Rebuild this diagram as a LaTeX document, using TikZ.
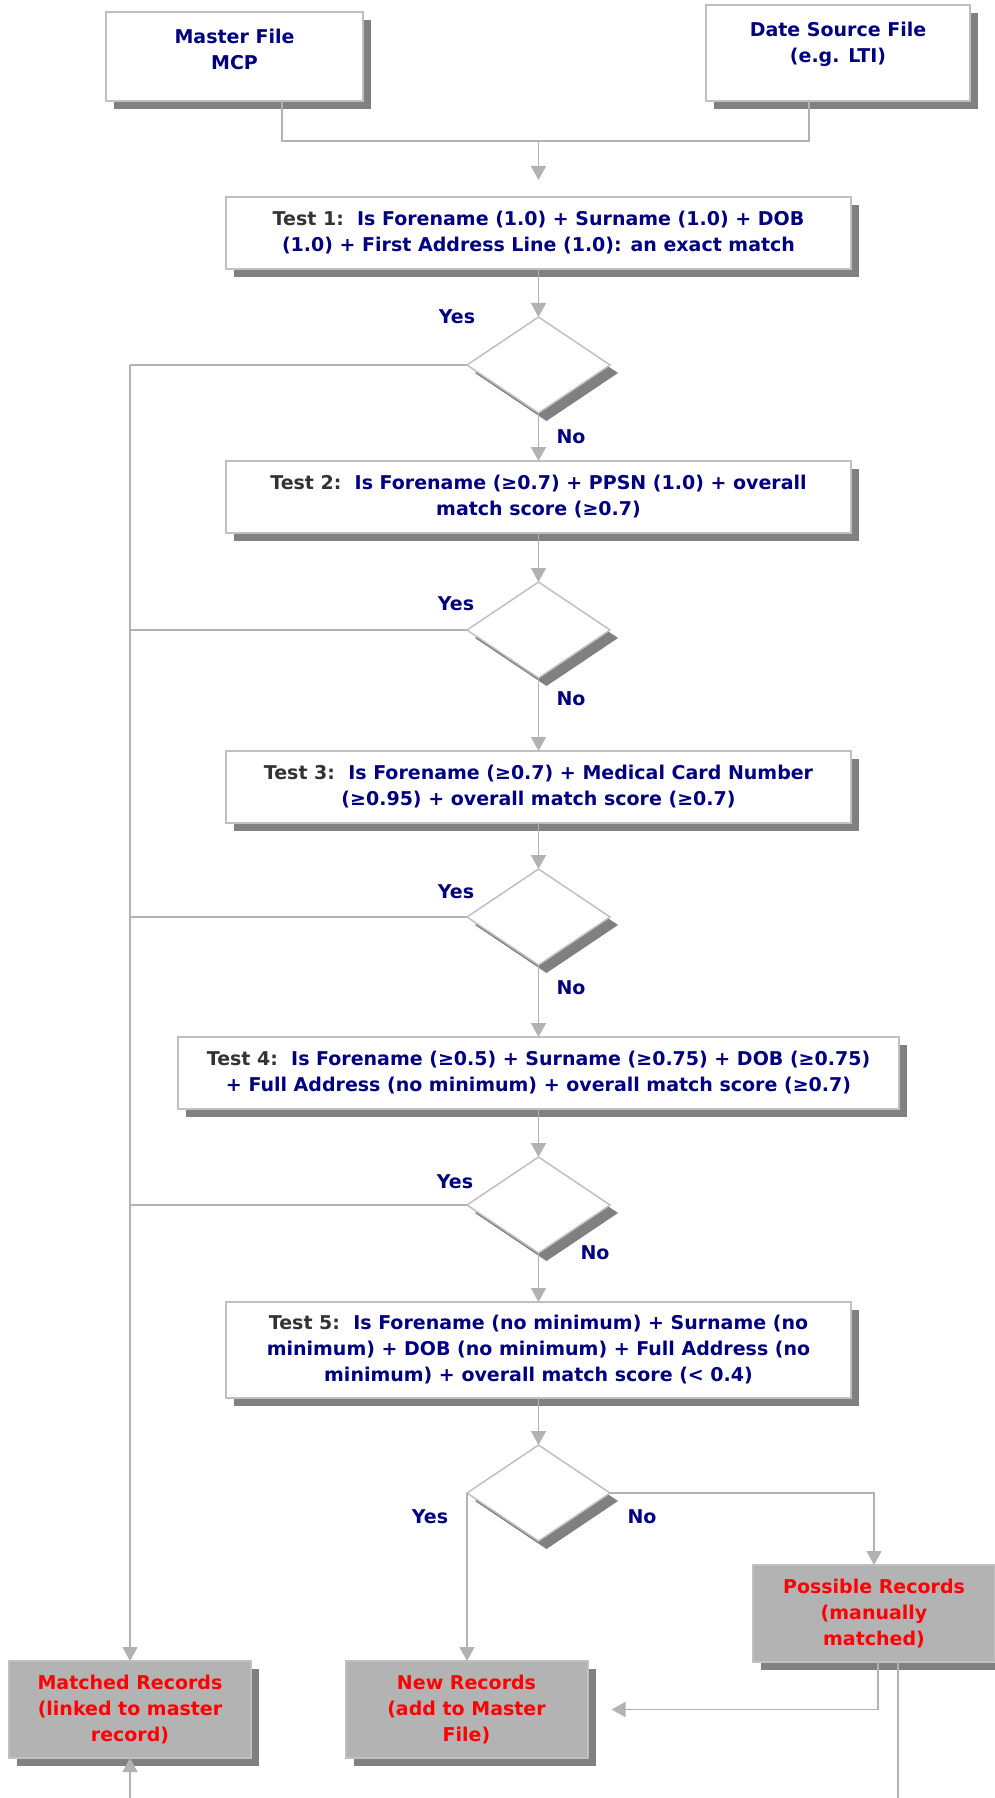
\documentclass[tikz,border=0pt]{standalone}
\usepackage{fontspec}
\setmainfont{DejaVu Sans}
\usetikzlibrary{positioning,arrows.meta,shapes.geometric,shadows}
\definecolor{mcpnavy}{HTML}{000080}
\definecolor{mcpgrey}{HTML}{333333}
\definecolor{mcpline}{HTML}{B2B2B2}
\definecolor{mcpedge}{HTML}{C0C0C0}
\definecolor{mcpshadow}{HTML}{808080}
\definecolor{mcpfill}{HTML}{B3B3B3}
\definecolor{mcpred}{HTML}{FF0000}
\newcommand{\testlbl}[1]{{\color{mcpgrey}Test #1:}\ \ }

\begin{document}
\begin{tikzpicture}[x=1pt, y=-1pt,
        every node/.style={font=\fontsize{19}{26}\selectfont\bfseries},
        sh/.style={drop shadow={shadow xshift=8pt, shadow yshift=-8pt, fill=mcpshadow, opacity=1}},
        b/.style={draw=mcpedge, line width=2pt, fill=white, sh, align=center, text=mcpnavy, inner sep=0pt, outer sep=0pt},
        t/.style={b, minimum width=625pt, minimum height=72pt},
        res/.style={b, fill=mcpfill, text=mcpred, minimum width=242pt, minimum height=97pt},
        q/.style={diamond, draw=mcpedge, line width=1.5pt, fill=white, sh, minimum width=143pt, minimum height=96pt, inner sep=0pt, outer sep=0pt},
        lbl/.style={text=mcpnavy},
        ln/.style={draw=mcpline, line width=1.5pt},
        arr/.style={ln, -{Triangle[length=14pt, width=15pt]}}]
      \useasboundingbox (0,0) rectangle (994,1798);
      % sources
      \node[b, minimum width=257pt, minimum height=89pt] (master) at (234.5,56.5) {Master File\\MCP\\[-12pt]\mbox{}};
      \node[b, minimum width=264pt, minimum height=96pt] (source) at (838,53) {Date Source File\\(e.g. LTI)\\[-4pt]\mbox{}};
      % tests and decisions
      \node[t] (t1) at (538.5,233) {\testlbl{1}Is Forename (1.0) + Surname (1.0) + DOB\\(1.0) + First Address Line (1.0): an exact match};
      \node[q] (d1) at (538.5,365) {};
      \node[t] (t2) at (538.5,497) {\testlbl{2}Is Forename (≥0.7) + PPSN (1.0) + overall\\match score (≥0.7)};
      \node[q] (d2) at (538.5,630) {};
      \node[t] (t3) at (538.5,787) {\testlbl{3}Is Forename (≥0.7) + Medical Card Number\\(≥0.95) + overall match score (≥0.7)};
      \node[q] (d3) at (538.5,917) {};
      \node[t, minimum width=721pt] (t4) at (538.5,1073) {\testlbl{4}Is Forename (≥0.5) + Surname (≥0.75) + DOB (≥0.75)\\+ Full Address (no minimum) + overall match score (≥0.7)};
      \node[q] (d4) at (538.5,1205) {};
      \node[t, minimum height=96pt] (t5) at (538.5,1350) {\testlbl{5}Is Forename (no minimum) + Surname (no\\minimum) + DOB (no minimum) + Full Address (no\\minimum) + overall match score (< 0.4)};
      \node[q] (d5) at (538.5,1493) {};
      % outcomes
      \node[res] (matched) at (130,1709.5) {Matched Records\\(linked to master\\record)};
      \node[res] (newrec) at (466.5,1709.5) {New Records\\(add to Master\\File)};
      \node[res] (possible) at (874,1613.5) {Possible Records\\(manually\\matched)};
      % yes / no labels
      \node[lbl] (y1) at (457,317) {Yes};
      \node[lbl] (n1) at (571,437) {No};
      \node[lbl] (y2) at (456,604) {Yes};
      \node[lbl] (n2) at (571,699) {No};
      \node[lbl] (y3) at (456,892) {Yes};
      \node[lbl] (n3) at (571,988) {No};
      \node[lbl] (y4) at (455,1182) {Yes};
      \node[lbl] (n4) at (595,1253) {No};
      \node[lbl] (y5) at (430,1517) {Yes};
      \node[lbl] (n5) at (642,1517) {No};
      % connectors
      \coordinate (mj) at (282,141);
      \coordinate (sj) at (809,141);
      \coordinate (tj) at (538.5,141);
      \coordinate (lj) at (130,365);
      \coordinate (mb) at (130,1798);
      \coordinate (pb) at (898,1798);
      \draw[ln] (master.south -| mj) -- (mj) -- (sj) -- (source.south -| sj);
      \draw[arr, shorten >=17pt] (tj) -- (t1);
      \draw[arr] (t1) -- (d1); \draw[arr] (d1) -- (t2);
      \draw[arr] (t2) -- (d2); \draw[arr] (d2) -- (t3);
      \draw[arr] (t3) -- (d3); \draw[arr] (d3) -- (t4);
      \draw[arr] (t4) -- (d4); \draw[arr] (d4) -- (t5);
      \draw[arr] (t5) -- (d5);
      \draw[ln] (d1.west) -- (lj);
      \draw[arr] (lj) -- (matched);
      \draw[ln] (d2.west) -- (d2.west -| lj);
      \draw[ln] (d3.west) -- (d3.west -| lj);
      \draw[ln] (d4.west) -- (d4.west -| lj);
      \draw[arr] (d5.west) -- (d5.west |- newrec.north);
      \draw[arr] (d5.east) -| (possible.north);
      \draw[arr, shorten >=24pt] ([xshift=4pt]possible.south) |- (newrec.east);
      \draw[ln] (possible.south -| pb) -- (pb);
      \draw[arr] (mb) -- (matched.south);
      \end{tikzpicture}
\end{document}
